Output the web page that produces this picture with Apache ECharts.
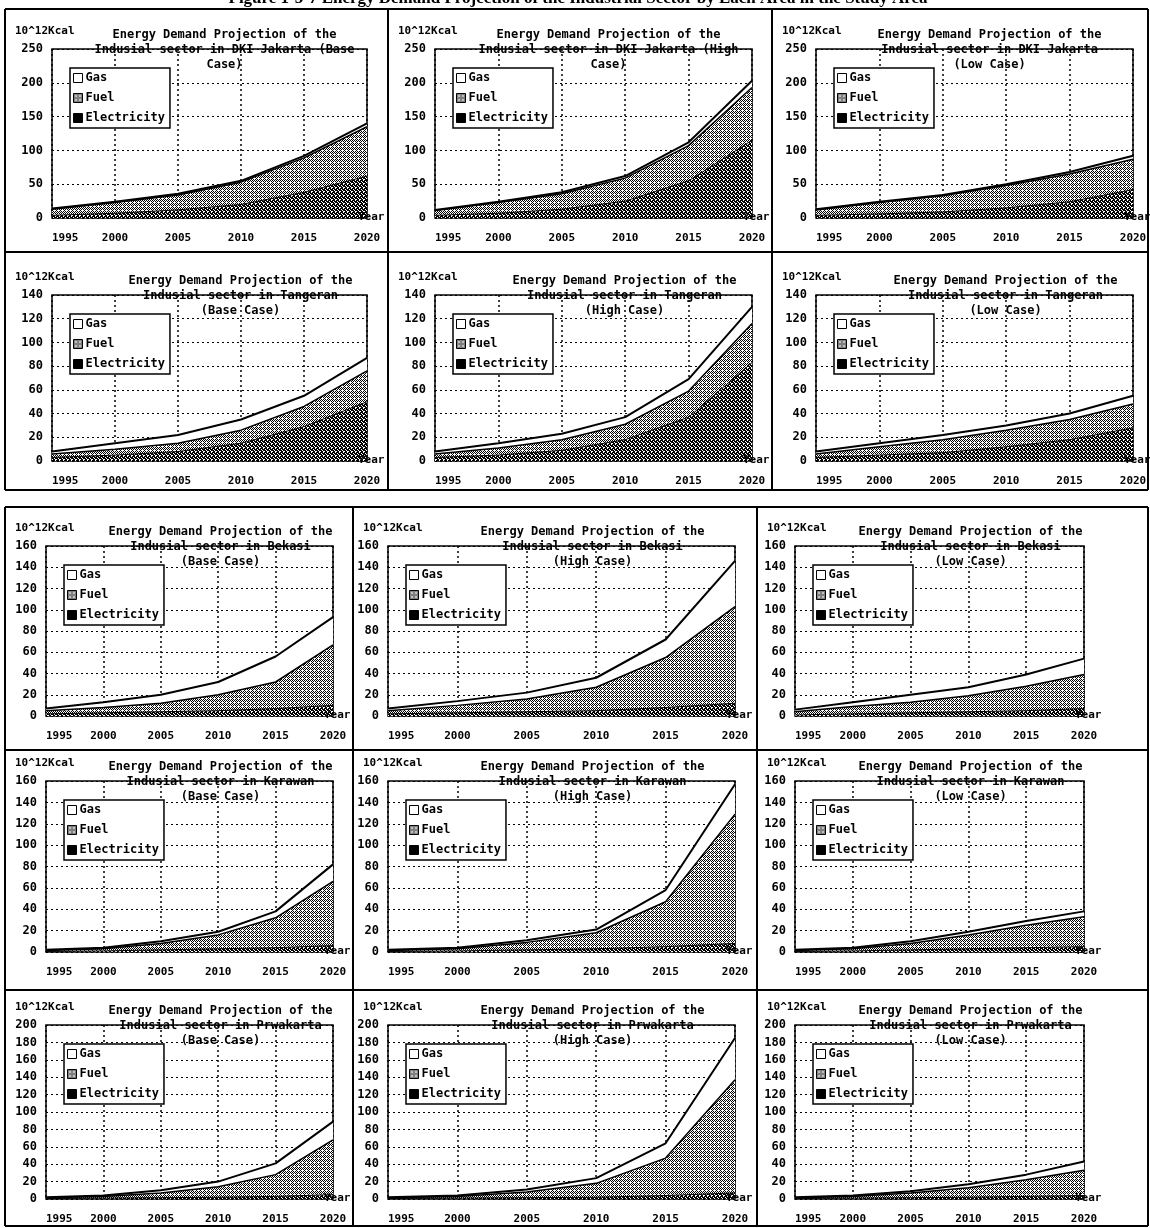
<!DOCTYPE html>
<html>
<head>
<meta charset="utf-8">
<title>Energy Demand Projection of the Industrial Sector</title>
<script src="https://cdn.jsdelivr.net/npm/echarts@6/dist/echarts.min.js"></script>
<style>
    html, body { margin: 0; padding: 0; background: #fff; }
    #main { width: 1150px; height: 1228px; }
</style>
</head>
<body>
<div id="main"></div>
<script>
    // x axis categories
    const years = ['1995', '2000', '2005', '2010', '2015', '2020'];

    // y axis scale per row of panels (10^12 kcal)
    const yMax = [250, 140, 160, 160, 200];
    const yStep = [50, 20, 20, 20, 20];

    const regions = ['DKI Jakarta', 'Tangeran', 'Bekasi', 'Karawan', 'Prwakarta'];
    const cases = ['Base', 'High', 'Low'];

    // values, each series is its own layer (stacked elec -> fuel -> gas)
    const jktBaseElec = [4, 7, 12, 20, 38, 62];
    const jktBaseFuel = [9, 16, 22, 33, 51, 73];
    const jktBaseGas  = [1, 1, 2, 2, 3, 5];
    const jktHighElec = [4, 7, 13, 25, 55, 115];
    const jktHighFuel = [7, 16, 23, 34, 52, 78];
    const jktHighGas  = [1, 1, 2, 3, 5, 10];
    const jktLowElec  = [4, 6, 9, 15, 24, 42];
    const jktLowFuel  = [8, 17, 24, 33, 41, 45];
    const jktLowGas   = [1, 1, 1, 2, 3, 5];

    const tgrBaseElec = [3, 5, 8, 15, 29, 50];
    const tgrBaseFuel = [3, 5, 7, 11, 17, 26];
    const tgrBaseGas  = [2, 5, 7, 9, 9, 11];
    const tgrHighElec = [3, 5, 9, 18, 37, 83];
    const tgrHighFuel = [3, 6, 9, 13, 22, 33];
    const tgrHighGas  = [2, 4, 5, 6, 10, 14];
    const tgrLowElec  = [3, 5, 7, 12, 18, 28];
    const tgrLowFuel  = [3, 7, 11, 14, 17, 20];
    const tgrLowGas   = [2, 3, 4, 4, 5, 7];

    const bksBaseElec = [2, 3, 4, 5, 7, 10];
    const bksBaseFuel = [3, 5, 8, 15, 25, 57];
    const bksBaseGas  = [2, 5, 8, 12, 24, 26];
    const bksHighElec = [2, 3, 4, 5, 8, 12];
    const bksHighFuel = [3, 7, 12, 22, 47, 91];
    const bksHighGas  = [2, 4, 6, 9, 17, 43];
    const bksLowElec  = [1, 2, 3, 4, 5, 7];
    const bksLowFuel  = [3, 7, 10, 15, 23, 32];
    const bksLowGas   = [2, 4, 7, 8, 11, 15];

    const krwBaseElec = [0.5, 1, 2, 3, 4, 6];
    const krwBaseFuel = [1, 2, 6, 13, 28, 60];
    const krwBaseGas  = [0.5, 1, 2, 3, 6, 16];
    const krwHighElec = [0.5, 1, 2, 3, 5, 8];
    const krwHighFuel = [1, 2, 7, 15, 42, 121];
    const krwHighGas  = [0.5, 1, 2, 3, 11, 28];
    const krwLowElec  = [0.5, 1, 2, 3, 4, 5];
    const krwLowFuel  = [1, 2, 6, 13, 21, 28];
    const krwLowGas   = [0.5, 1, 2, 3, 4, 5];

    const pwkBaseElec = [0.5, 1, 1.5, 2, 3, 5];
    const pwkBaseFuel = [1, 2, 5.5, 12, 25, 63];
    const pwkBaseGas  = [0.5, 1, 3, 6, 13, 21];
    const pwkHighElec = [0.5, 1, 1.5, 2, 4, 7];
    const pwkHighFuel = [1, 2, 6.5, 16, 43, 130];
    const pwkHighGas  = [0.5, 1, 3, 6, 17, 48];
    const pwkLowElec  = [0.5, 1, 1.5, 2, 3, 4];
    const pwkLowFuel  = [1, 2, 5.5, 11, 19, 29];
    const pwkLowGas   = [0.5, 1, 2, 4, 6, 10];

    const elecData = [
        [jktBaseElec, jktHighElec, jktLowElec],
        [tgrBaseElec, tgrHighElec, tgrLowElec],
        [bksBaseElec, bksHighElec, bksLowElec],
        [krwBaseElec, krwHighElec, krwLowElec],
        [pwkBaseElec, pwkHighElec, pwkLowElec]
    ];
    const fuelData = [
        [jktBaseFuel, jktHighFuel, jktLowFuel],
        [tgrBaseFuel, tgrHighFuel, tgrLowFuel],
        [bksBaseFuel, bksHighFuel, bksLowFuel],
        [krwBaseFuel, krwHighFuel, krwLowFuel],
        [pwkBaseFuel, pwkHighFuel, pwkLowFuel]
    ];
    const gasData = [
        [jktBaseGas, jktHighGas, jktLowGas],
        [tgrBaseGas, tgrHighGas, tgrLowGas],
        [bksBaseGas, bksHighGas, bksLowGas],
        [krwBaseGas, krwHighGas, krwLowGas],
        [pwkBaseGas, pwkHighGas, pwkLowGas]
    ];

    // page layout (pixels)
    const topCols = { plotL: [52, 435, 816], plotR: [367, 752, 1133], panelL: [5, 388, 772] };
    const lowCols = { plotL: [46, 388, 795], plotR: [333, 735, 1084], panelL: [5, 353, 757] };
    const rowTop = [49, 295, 546, 781, 1025];
    const rowBottom = [218, 461, 716, 952, 1199];

    const MONO = '"DejaVu Sans Mono", "Liberation Mono", monospace';

    // small halftone tiles to imitate the scanned fills
    function makePattern(rows) {
        let c = document.createElement('canvas');
        c.width = rows[0].length;
        c.height = rows.length;
        let ctx = c.getContext('2d');
        ctx.fillStyle = '#fff';
        ctx.fillRect(0, 0, c.width, c.height);
        ctx.fillStyle = '#000';
        rows.forEach((r, y) => {
            for (let x = 0; x < r.length; x++) {
                if (r[x] === '1') ctx.fillRect(x, y, 1, 1);
            }
        });
        return c;
    }
    const fuelFill = { image: makePattern(['1010', '0101', '1000', '0101']), repeat: 'repeat' };
    const elecFill = { image: makePattern(['1110', '1011', '1101', '0110']), repeat: 'repeat' };

    function titleText(r, c) {
        let head = 'Energy Demand Projection of the\n';
        if (r === 0 && c < 2) return head + 'Indusial sector in DKI Jakarta (' + cases[c] + '\nCase)';
        return head + 'Indusial sector in ' + regions[r] + '\n(' + cases[c] + ' Case)';
    }

    let grids = [], xAxes = [], yAxes = [], series = [], titles = [], legends = [], graphics = [];

    for (let r = 0; r < 5; r++) {
        let cols = r < 2 ? topCols : lowCols;
        for (let c = 0; c < 3; c++) {
            let i = r * 3 + c;
            let L = cols.plotL[c], R = cols.plotR[c], T = rowTop[r], B = rowBottom[r];

            grids.push({
                left: L, top: T, width: R - L, height: B - T,
                show: true, borderColor: '#000', borderWidth: 1.5, backgroundColor: '#fff'
            });
            xAxes.push({
                gridIndex: i, type: 'category', data: years, boundaryGap: false,
                axisLine: { show: false }, axisTick: { show: false },
                axisLabel: {
                    color: '#000', fontFamily: MONO, fontWeight: 'bold', fontSize: 11,
                    margin: 15, interval: 0, alignMinLabel: 'left'
                },
                splitLine: { show: true, interval: 0, lineStyle: { color: '#000', type: [2, 3], width: 1.5 } }
            });
            yAxes.push({
                gridIndex: i, type: 'value', min: 0, max: yMax[r], interval: yStep[r],
                axisLine: { show: false }, axisTick: { show: false },
                axisLabel: { color: '#000', fontFamily: MONO, fontWeight: 'bold', fontSize: 12, margin: 9 },
                splitLine: { lineStyle: { color: '#000', type: [2, 3], width: 1 } }
            });

            let base = { type: 'line', xAxisIndex: i, yAxisIndex: i, stack: 'p' + i, showSymbol: false, silent: true };
            series.push(Object.assign({}, base, {
                name: 'Electricity', data: elecData[r][c],
                lineStyle: { color: '#000', width: 1 },
                areaStyle: { color: elecFill, opacity: 1 }
            }));
            series.push(Object.assign({}, base, {
                name: 'Fuel', data: fuelData[r][c],
                lineStyle: { color: '#000', width: 1.5 },
                areaStyle: { color: fuelFill, opacity: 1 }
            }));
            series.push(Object.assign({}, base, {
                name: 'Gas', data: gasData[r][c],
                lineStyle: { color: '#000', width: 2 },
                areaStyle: { color: '#fff', opacity: 1 }
            }));

            titles.push({
                text: titleText(r, c),
                left: (L + R) / 2 + (r === 0 ? 10 : 26), top: T - 27,
                textAlign: 'center',
                textStyle: { fontFamily: MONO, fontWeight: 'bold', fontSize: 12, color: '#000', lineHeight: 15 }
            });

            legends.push({
                orient: 'vertical', left: L + 18, top: T + 19,
                icon: 'rect', itemWidth: 9, itemHeight: 9, itemGap: 8,
                padding: [4, 5, 4, 3], selectedMode: false,
                backgroundColor: '#fff', borderColor: '#000', borderWidth: 1.5,
                textStyle: { fontFamily: MONO, fontWeight: 'bold', fontSize: 12, color: '#000', padding: [0, 0, 0, -2] },
                data: [
                    { name: 'Gas', itemStyle: { color: '#fff', borderColor: '#000', borderWidth: 1 } },
                    { name: 'Fuel', itemStyle: { color: fuelFill, borderColor: '#000', borderWidth: 1 } },
                    { name: 'Electricity', itemStyle: { color: '#000', borderColor: '#000', borderWidth: 1 } }
                ]
            });

            graphics.push({
                type: 'text', left: cols.panelL[c] + 10, top: T - 23, z: 50,
                style: { text: '10^12Kcal', font: 'bold 11px ' + MONO, fill: '#000' }
            });
            graphics.push({
                type: 'text', x: R - 9, y: B - 1, z: 50,
                style: { text: 'Year', font: 'bold 11px ' + MONO, fill: '#000', verticalAlign: 'middle' }
            });
        }
    }

    // panel frames
    function frameLine(x1, y1, x2, y2) {
        graphics.push({
            type: 'line', z: 40, silent: true,
            shape: { x1: x1, y1: y1, x2: x2, y2: y2 },
            style: { stroke: '#000', lineWidth: 2 }
        });
    }
    frameLine(5, 9, 1148, 9);
    frameLine(5, 490, 1148, 490);
    frameLine(5, 252, 1148, 252);
    frameLine(5, 9, 5, 490);
    frameLine(1148, 9, 1148, 490);
    frameLine(388, 9, 388, 490);
    frameLine(772, 9, 772, 490);

    frameLine(5, 507, 1148, 507);
    frameLine(5, 750, 1148, 750);
    frameLine(5, 990, 1148, 990);
    frameLine(5, 1226, 1148, 1226);
    frameLine(5, 507, 5, 1226);
    frameLine(1148, 507, 1148, 1226);
    frameLine(353, 507, 353, 1226);
    frameLine(757, 507, 757, 1226);

    // figure caption, cut off at the top edge of the scan
    graphics.push({
        type: 'text', x: 578, y: -1, z: 50,
        style: {
            text: 'Figure 1-5-7 Energy Demand Projection of the Industrial Sector by Each Area in the Study Area',
            font: 'bold 17px "Liberation Serif", serif', fill: '#000',
            align: 'center', verticalAlign: 'middle'
        }
    });

    let myChart = echarts.init(document.getElementById('main'));
    myChart.setOption({
        animation: false,
        backgroundColor: '#fff',
        title: titles,
        legend: legends,
        grid: grids,
        xAxis: xAxes,
        yAxis: yAxes,
        series: series,
        graphic: graphics
    });
</script>
</body>
</html>
